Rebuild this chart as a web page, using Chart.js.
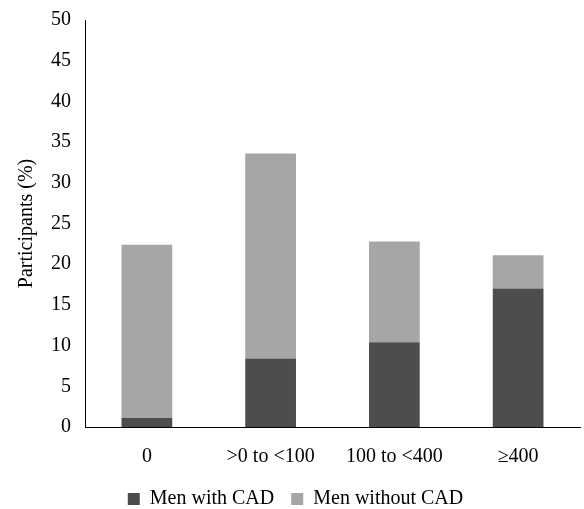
<!DOCTYPE html>
<html><head><meta charset="utf-8">
<script src="https://cdn.jsdelivr.net/npm/chart.js@4"></script>
<style>body{margin:0;background:#fff}#wrap{width:584px;height:509px}</style>
</head><body><div id="wrap"><canvas id="c"></canvas></div>
<script>
const categories = ["0", ">0 to <100", "100 to <400", "\u2265400"];
const withCad = [1.1, 8.4, 10.4, 17.0];
const withoutCad = [21.3, 25.2, 12.4, 4.1];

Chart.defaults.font.family = "'Liberation Serif', 'Times New Roman', serif";
Chart.defaults.font.size = 20;
Chart.defaults.color = "#000";

new Chart(document.getElementById("c"), {
  type: "bar",
  data: {
    labels: categories,
    datasets: [
      { label: "Men with CAD", data: withCad, backgroundColor: "#4d4d4d" },
      { label: "Men without CAD", data: withoutCad, backgroundColor: "#a6a6a6" }
    ]
  },
  options: {
    responsive: true,
    maintainAspectRatio: false,
    animation: false,
    layout: { padding: { top: 16, right: 4, left: 11, bottom: -10 } },
    datasets: { bar: { barPercentage: 0.41, categoryPercentage: 1 } },
    scales: {
      x: {
        stacked: true,
        grid: { display: false, drawTicks: false },
        border: { color: "#000" },
        ticks: { padding: 18 }
      },
      y: {
        stacked: true,
        min: 0, max: 50,
        ticks: { stepSize: 5, padding: 8 },
        grid: { display: false, drawTicks: true, tickLength: 6, color: "#000" },
        border: { color: "#000" },
        title: { display: true, text: "Participants (%)", font: { size: 20 } }
      }
    },
    plugins: {
      legend: {
        position: "bottom",
        labels: {
          boxWidth: 12, boxHeight: 12, padding: 2,
          generateLabels(chart) {
            const items = Chart.defaults.plugins.legend.labels.generateLabels(chart);
            items.forEach((it, i) => { if (i === 0) it.text += "   "; });
            return items;
          }
        }
      },
      tooltip: { enabled: false }
    }
  }
});
</script></body></html>
